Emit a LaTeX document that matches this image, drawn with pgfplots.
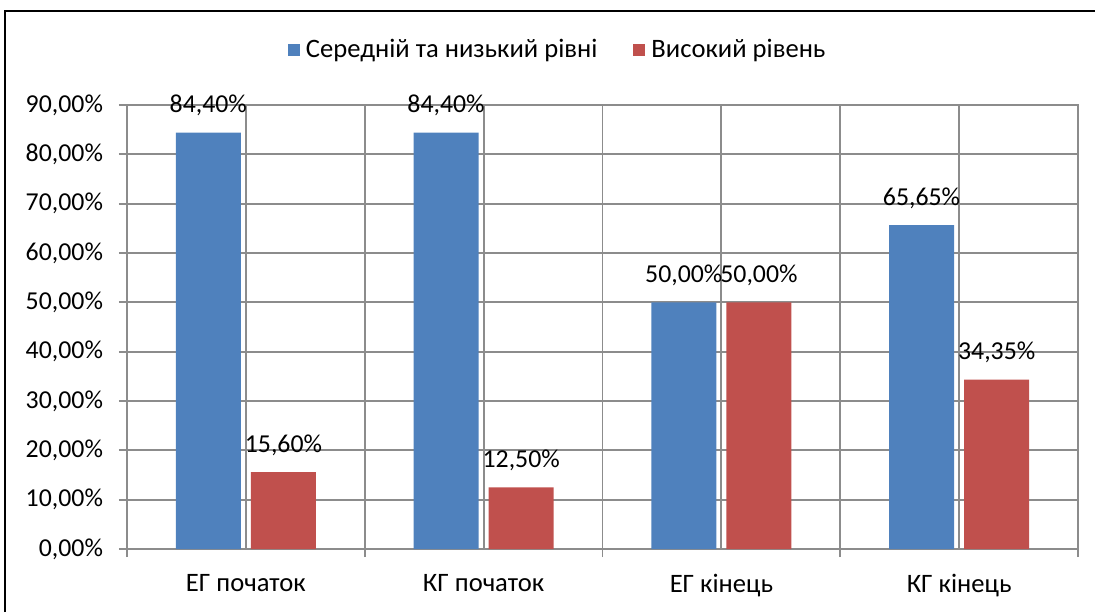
\documentclass[border=0pt]{standalone}
\usepackage{pgfplots}
\pgfplotsset{compat=1.18}
\usepackage{fontspec}
\setmainfont{Carlito}
\definecolor{cblue}{HTML}{4F81BD}
\definecolor{cred}{HTML}{C0504D}
\definecolor{cgrid}{HTML}{8C8C8C}
\begin{document}
\begin{tikzpicture}
\path[use as bounding box] (0,0) rectangle (547.5pt,306pt);
\draw[black, line width=0.6pt] (2.5pt,0) -- (2.5pt,300.5pt) -- (547.5pt,300.5pt);
\begin{axis}[
  at={(63.5pt,31.5pt)}, anchor=south west,
  scale only axis, width=475.5pt, height=222pt,
  xmin=-0.5, xmax=3.5, ymin=0, ymax=90,
  font=\fontsize{13.3}{15}\selectfont,
  /pgf/number format/assume math mode=true,
  xtick={0,1,2,3},
  xticklabels={ЕГ початок, КГ початок, ЕГ кінець, КГ кінець},
  minor xtick={-0.5,0.5,1.5,2.5,3.5},
  ytick={0,10,...,90},
  yticklabel={\pgfmathprintnumber[fixed,fixed zerofill,precision=2,use comma]{\tick}\%},
  xmajorgrids, xminorgrids, ymajorgrids,
  grid style={cgrid, line width=0.9pt},
  minor grid style={cgrid, line width=0.9pt},
  axis line style={cgrid, line width=0.9pt},
  tick style={cgrid, line width=0.9pt},
  major x tick style={draw=none},
  tick align=outside, major tick length=4pt, minor tick length=4pt,
  xtick pos=bottom, ytick pos=left,
  xticklabel style={yshift=-5pt},
  yticklabel style={xshift=-4.5pt, font=\fontsize{12.9}{15}\selectfont},
  ybar, bar width=0.273,
  nodes near coords={\pgfmathprintnumber[fixed,fixed zerofill,precision=2,use comma]{\pgfplotspointmeta}\%},
  every node near coord/.append style={font=\fontsize{12.9}{15}\selectfont, black, inner sep=2pt, yshift=6pt},
  legend style={at={(0.455,1.124)}, anchor=center, draw=none, fill=none,
    legend columns=2, font=\fontsize{13.3}{15}\selectfont,
    /tikz/every even column/.append style={column sep=15pt},
    /tikz/every node/.append style={inner xsep=3pt}},
  legend image code/.code={\fill[#1] (0pt,-3pt) rectangle (6pt,3pt);},
]
\addplot[fill=cblue, draw=none, bar shift=-0.158] coordinates {(0,84.40) (1,84.40) (2,50.00) (3,65.65)};
\addplot[fill=cred, draw=none, bar shift=0.158] coordinates {(0,15.60) (1,12.50) (2,50.00) (3,34.35)};
\legend{Середній та низький рівні, Високий рівень}
\end{axis}
\end{tikzpicture}
\end{document}
